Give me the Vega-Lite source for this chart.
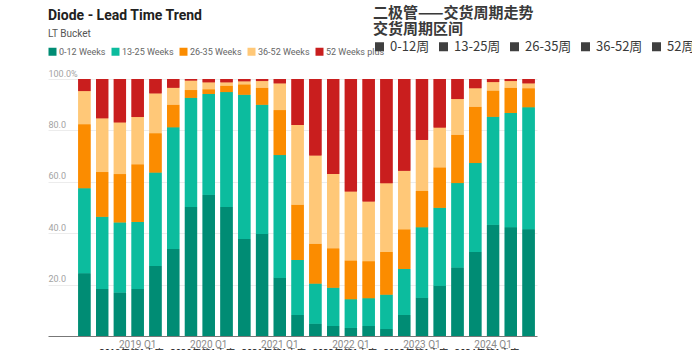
{
  "$schema": "https://vega.github.io/schema/vega-lite/v6.json",
  "width": 489,
  "height": 257,
  "autosize": {"type": "none"},
  "padding": {"left": 48, "top": 79, "right": 155, "bottom": 14},
  "background": "white",
  "config": {"view": {"stroke": null}, "font": "Roboto"},
  "title": {
    "text": "Diode - Lead Time Trend",
    "subtitle": "LT Bucket",
    "anchor": "start",
    "frame": "group",
    "font": "Roboto",
    "fontSize": 14,
    "fontWeight": "bold",
    "color": "#212121",
    "subtitleFont": "Roboto",
    "subtitleFontSize": 10,
    "subtitleColor": "#555555",
    "subtitlePadding": 6,
    "offset": -33
  },
  "datasets": {
    "quarters": [
      {"q": "2018 Q2", "0-12 Weeks": 24.4, "13-25 Weeks": 33.1, "26-35 Weeks": 24.9, "36-52 Weeks": 12.9, "52 Weeks plus": 4.7},
      {"q": "2018 Q3", "0-12 Weeks": 18.3, "13-25 Weeks": 28.1, "26-35 Weeks": 17.4, "36-52 Weeks": 20.9, "52 Weeks plus": 15.3},
      {"q": "2018 Q4", "0-12 Weeks": 16.9, "13-25 Weeks": 27.3, "26-35 Weeks": 18.8, "36-52 Weeks": 20.1, "52 Weeks plus": 16.9},
      {"q": "2019 Q1", "0-12 Weeks": 18.3, "13-25 Weeks": 26.1, "26-35 Weeks": 22.4, "36-52 Weeks": 18.4, "52 Weeks plus": 14.8},
      {"q": "2019 Q2", "0-12 Weeks": 27.2, "13-25 Weeks": 36.4, "26-35 Weeks": 15.3, "36-52 Weeks": 15.5, "52 Weeks plus": 5.6},
      {"q": "2019 Q3", "0-12 Weeks": 33.9, "13-25 Weeks": 47.3, "26-35 Weeks": 8.8, "36-52 Weeks": 6.6, "52 Weeks plus": 3.4},
      {"q": "2019 Q4", "0-12 Weeks": 50.2, "13-25 Weeks": 42.5, "26-35 Weeks": 3.0, "36-52 Weeks": 3.7, "52 Weeks plus": 0.6},
      {"q": "2020 Q1", "0-12 Weeks": 55.0, "13-25 Weeks": 39.2, "26-35 Weeks": 1.8, "36-52 Weeks": 2.7, "52 Weeks plus": 1.3},
      {"q": "2020 Q2", "0-12 Weeks": 50.2, "13-25 Weeks": 44.7, "26-35 Weeks": 2.5, "36-52 Weeks": 1.3, "52 Weeks plus": 1.3},
      {"q": "2020 Q3", "0-12 Weeks": 37.7, "13-25 Weeks": 56.2, "26-35 Weeks": 4.0, "36-52 Weeks": 1.2, "52 Weeks plus": 0.9},
      {"q": "2020 Q4", "0-12 Weeks": 39.7, "13-25 Weeks": 50.3, "26-35 Weeks": 6.6, "36-52 Weeks": 2.6, "52 Weeks plus": 0.8},
      {"q": "2021 Q1", "0-12 Weeks": 22.7, "13-25 Weeks": 47.7, "26-35 Weeks": 17.5, "36-52 Weeks": 10.4, "52 Weeks plus": 1.7},
      {"q": "2021 Q2", "0-12 Weeks": 8.2, "13-25 Weeks": 21.4, "26-35 Weeks": 21.5, "36-52 Weeks": 31.0, "52 Weeks plus": 17.9},
      {"q": "2021 Q3", "0-12 Weeks": 4.8, "13-25 Weeks": 15.6, "26-35 Weeks": 15.5, "36-52 Weeks": 34.3, "52 Weeks plus": 29.8},
      {"q": "2021 Q4", "0-12 Weeks": 3.9, "13-25 Weeks": 14.9, "26-35 Weeks": 15.3, "36-52 Weeks": 28.9, "52 Weeks plus": 37.0},
      {"q": "2022 Q1", "0-12 Weeks": 3.2, "13-25 Weeks": 11.1, "26-35 Weeks": 15.1, "36-52 Weeks": 26.8, "52 Weeks plus": 43.8},
      {"q": "2022 Q2", "0-12 Weeks": 3.9, "13-25 Weeks": 10.8, "26-35 Weeks": 14.4, "36-52 Weeks": 23.2, "52 Weeks plus": 47.7},
      {"q": "2022 Q3", "0-12 Weeks": 2.7, "13-25 Weeks": 13.4, "26-35 Weeks": 16.6, "36-52 Weeks": 26.7, "52 Weeks plus": 40.6},
      {"q": "2022 Q4", "0-12 Weeks": 8.2, "13-25 Weeks": 17.9, "26-35 Weeks": 15.4, "36-52 Weeks": 22.8, "52 Weeks plus": 35.7},
      {"q": "2023 Q1", "0-12 Weeks": 14.9, "13-25 Weeks": 27.4, "26-35 Weeks": 14.2, "36-52 Weeks": 19.8, "52 Weeks plus": 23.7},
      {"q": "2023 Q2", "0-12 Weeks": 19.6, "13-25 Weeks": 30.3, "26-35 Weeks": 15.7, "36-52 Weeks": 15.5, "52 Weeks plus": 18.9},
      {"q": "2023 Q3", "0-12 Weeks": 26.7, "13-25 Weeks": 32.8, "26-35 Weeks": 18.8, "36-52 Weeks": 13.9, "52 Weeks plus": 7.8},
      {"q": "2023 Q4", "0-12 Weeks": 32.7, "13-25 Weeks": 34.6, "26-35 Weeks": 21.9, "36-52 Weeks": 7.2, "52 Weeks plus": 3.6},
      {"q": "2024 Q1", "0-12 Weeks": 43.3, "13-25 Weeks": 42.0, "26-35 Weeks": 10.2, "36-52 Weeks": 3.3, "52 Weeks plus": 1.2},
      {"q": "2024 Q2", "0-12 Weeks": 42.3, "13-25 Weeks": 44.5, "26-35 Weeks": 9.8, "36-52 Weeks": 2.6, "52 Weeks plus": 0.8},
      {"q": "2024 Q3", "0-12 Weeks": 41.5, "13-25 Weeks": 47.5, "26-35 Weeks": 7.4, "36-52 Weeks": 1.9, "52 Weeks plus": 1.7}
    ],
    "buckets": [
      {"bucket": "0-12 Weeks", "zh": "0-12周"},
      {"bucket": "13-25 Weeks", "zh": "13-25周"},
      {"bucket": "26-35 Weeks", "zh": "26-35周"},
      {"bucket": "36-52 Weeks", "zh": "36-52周"},
      {"bucket": "52 Weeks plus", "zh": "52周以上"}
    ]
  },
  "data": {"name": "quarters"},
  "transform": [
    {"fold": ["0-12 Weeks", "13-25 Weeks", "26-35 Weeks", "36-52 Weeks", "52 Weeks plus"], "as": ["bucket", "pct"]},
    {"lookup": "bucket", "from": {"data": {"name": "buckets"}, "key": "bucket", "fields": ["zh"]}}
  ],
  "encoding": {
    "y": {
      "field": "pct",
      "type": "quantitative",
      "stack": "normalize",
      "scale": {"domain": [0, 1], "nice": false},
      "axis": {
        "title": null,
        "values": [0.2, 0.4, 0.6, 0.8, 1],
        "labelExpr": "datum.value >= 0.999 ? '100.0%' : format(datum.value * 100, '.1f')",
        "labelAlign": "left",
        "labelBaseline": "alphabetic",
        "labelPadding": 0,
        "labelOffset": -3,
        "ticks": false,
        "tickSize": 0,
        "domain": false,
        "grid": true,
        "gridColor": "#ececec",
        "labelColor": "#a3a3a3",
        "labelFont": "Roboto",
        "labelFontSize": 9
      }
    },
    "color": {
      "field": "bucket",
      "type": "nominal",
      "scale": {
        "domain": ["0-12 Weeks", "13-25 Weeks", "26-35 Weeks", "36-52 Weeks", "52 Weeks plus"],
        "range": ["#008c74", "#0cbc9e", "#fb8c00", "#ffc878", "#c91e1e"]
      },
      "legend": {
        "title": null,
        "orient": "none",
        "legendX": 0,
        "legendY": -32,
        "direction": "horizontal",
        "symbolType": "square",
        "symbolSize": 64,
        "symbolStrokeWidth": 0,
        "labelFont": "Roboto",
        "labelFontSize": 9,
        "labelColor": "#666666",
        "labelOffset": 2,
        "columnPadding": 5,
        "padding": 0
      }
    },
    "order": {"field": "bucket", "sort": "ascending"}
  },
  "layer": [
    {
      "mark": {"type": "bar"},
      "encoding": {
        "x": {
          "field": "q",
          "type": "nominal",
          "sort": null,
          "scale": {"paddingInner": 0.31, "paddingOuter": 0.915, "align": 0.93},
          "axis": {
            "title": null,
            "labelExpr": "indexof(datum.value, 'Q1') >= 0 ? datum.value : ''",
            "labelAngle": 0,
            "labelFont": "Roboto",
            "labelFontSize": 10,
            "labelColor": "#8a8a8a",
            "labelPadding": 3,
            "labelOverlap": false,
            "ticks": false,
            "domainColor": "#777777",
            "domainWidth": 1,
            "grid": false
          }
        }
      }
    },
    {
      "mark": {"type": "bar"},
      "encoding": {
        "x": {
          "field": "q",
          "type": "nominal",
          "sort": null,
          "scale": {"paddingInner": 0.31, "paddingOuter": 0.915, "align": 0.93},
          "axis": {
            "orient": "bottom",
            "title": null,
            "labelExpr": "indexof(datum.value, 'Q1') >= 0 ? substring(datum.value, 0, 4) + '年第1季度' : ''",
            "labelAngle": 0,
            "labelFont": "Noto Sans CJK SC",
            "labelFontSize": 9.5,
            "labelColor": "#111111",
            "labelPadding": 11,
            "labelBaseline": "top",
            "labelOffset": -6,
            "labelOverlap": false,
            "ticks": false,
            "domain": false,
            "grid": false
          }
        },
        "opacity": {
          "field": "zh",
          "type": "ordinal",
          "scale": {"type": "ordinal", "domain": ["0-12周", "13-25周", "26-35周", "36-52周", "52周以上"], "range": [1, 1, 1, 1, 1]},
          "legend": {
            "title": ["二极管——交货周期走势", "交货周期区间"],
            "orient": "none",
            "legendX": 325,
            "legendY": -73,
            "direction": "horizontal",
            "titleFont": "Noto Sans CJK SC",
            "titleFontSize": 15,
            "titleFontWeight": "bold",
            "titleColor": "#3a3a3a",
            "titleLineHeight": 16,
            "titlePadding": 3,
            "titleLimit": 400,
            "labelFont": "Noto Sans CJK SC",
            "labelFontSize": 13,
            "labelColor": "#3a3a3a",
            "labelLimit": 200,
            "symbolType": "square",
            "symbolSize": 81,
            "symbolFillColor": "#3f3f3f",
            "symbolStrokeWidth": 0,
            "labelOffset": 4,
            "columnPadding": 7,
            "padding": 0,
            "encode": {"symbols": {"update": {"fill": {"value": "#3f3f3f"}, "fillOpacity": {"value": 1}, "opacity": {"value": 1}}}}
          }
        }
      }
    }
  ],
  "resolve": {"axis": {"x": "independent"}}
}
